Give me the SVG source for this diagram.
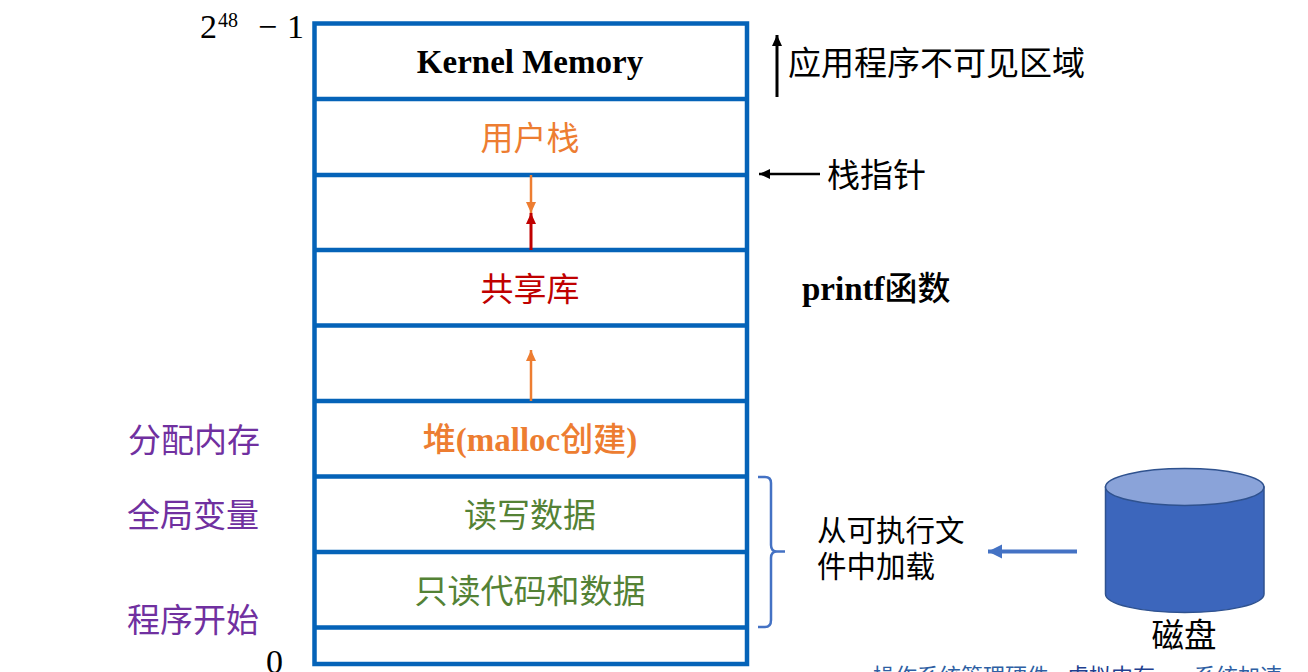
<svg xmlns="http://www.w3.org/2000/svg" width="1308" height="672" viewBox="0 0 1308 672">
<style>
text{font-family:"Liberation Serif","Noto Sans CJK SC",serif;}
.c{text-anchor:middle;font-size:33px}
.o{fill:#ed7d31}.g{fill:#548235}.p{fill:#7030a0}.r{fill:#c00000}
.b{font-family:"Noto Sans CJK SC",sans-serif;font-size:33px;text-anchor:middle}
.l{font-family:"Noto Sans CJK SC",sans-serif;font-size:33px}
.z{font-family:"Noto Sans CJK SC",sans-serif;font-weight:500}
.n{font-size:34px}
.m{fill:none;stroke:#0563b8;stroke-width:4.5}
.f{font-family:"Noto Sans CJK SC",sans-serif;font-size:29.500px}
.s{font-family:"Noto Sans CJK SC",sans-serif;font-size:22px;fill:#2e5fa3}
</style>
<defs>
<marker id="ao" markerUnits="userSpaceOnUse" markerWidth="12" markerHeight="12" refX="11" refY="6" orient="auto"><path d="M0 1L11 6L0 11z" fill="#ed7d31"/></marker>
<marker id="ar" markerUnits="userSpaceOnUse" markerWidth="12" markerHeight="12" refX="11" refY="6" orient="auto"><path d="M0 1L11 6L0 11z" fill="#c00000"/></marker>
<marker id="ak" markerUnits="userSpaceOnUse" markerWidth="12" markerHeight="12" refX="11" refY="6" orient="auto"><path d="M0 1L11 6L0 11z" fill="#000"/></marker>
<marker id="ab" markerUnits="userSpaceOnUse" markerWidth="15" markerHeight="16" refX="14" refY="8" orient="auto"><path d="M0 1L14 8L0 15z" fill="#4472c4"/></marker>
</defs>
<rect width="1308" height="672" fill="#fff"/>
<g id="memory-stack">
<rect class="m" x="314.500" y="23.500" width="432.500" height="640.500"/>
<path class="m" d="M314 99H747M314 175H747M314 250H747M314 325.500H747M314 401H747M314 476.500H747M314 552H747M314 627.500H747"/>
</g>
<g id="kernel"><text class="c" x="530" y="73" font-weight="700">Kernel Memory</text></g>
<g id="user-stack"><text class="b o" x="530" y="150">用户栈</text></g>
<g id="shared-lib"><text class="b r" x="530" y="301">共享库</text></g>
<g id="heap"><text class="c o" x="530" y="451" font-weight="700"><tspan class="z">堆</tspan>(malloc<tspan class="z">创建</tspan>)</text></g>
<g id="rw-data"><text class="b g" x="530" y="527">读写数据</text></g>
<g id="ro-data"><text class="b g" x="530" y="603">只读代码和数据</text></g>
<g id="connectors">
<path d="M531 175V213" stroke="#ed7d31" stroke-width="2.500" marker-end="url(#ao)"/>
<path d="M531 250V213" stroke="#c00000" stroke-width="3" marker-end="url(#ar)"/>
<path d="M531 401V350" stroke="#ed7d31" stroke-width="2.500" marker-end="url(#ao)"/>
<path d="M777 97V35" stroke="#000" stroke-width="3" marker-end="url(#ak)"/>
<path d="M820 174H759" stroke="#000" stroke-width="2.500" marker-end="url(#ak)"/>
<path d="M1077 551.500H988" stroke="#4472c4" stroke-width="4" marker-end="url(#ab)"/>
<path d="M758 477H765Q771 477 771 483V545Q771 551.500 777 551.500H785M777 551.500Q771 551.500 771 558V620Q771 627 765 627H758" fill="none" stroke="#4472c4" stroke-width="2.500"/>
</g>
<g id="top-label"><text class="n" x="200" y="38">2</text><text x="218" y="27" font-size="20" font-family="DejaVu Serif,serif">48</text><text class="n" x="258" y="38" font-size="36">−</text><text class="n" x="287" y="38">1</text></g>
<g id="zero-label"><text class="n" x="266" y="673">0</text></g>
<g id="invisible-label"><text class="l" x="788" y="75">应用程序不可见区域</text></g>
<g id="sp-label"><text class="l" x="827" y="187">栈指针</text></g>
<g id="printf-label"><text x="802" y="300" font-size="33" font-weight="700">printf<tspan class="z">函数</tspan></text></g>
<g id="alloc-label"><text class="b p" x="194" y="452">分配内存</text></g>
<g id="global-label"><text class="b p" x="193" y="527">全局变量</text></g>
<g id="start-label"><text class="b p" x="193" y="632">程序开始</text></g>
<g id="load-label"><text class="f" x="817" y="541">从可执行文</text><text class="f" x="817" y="577">件中加载</text></g>
<g id="disk">
<path d="M1105.500 487V594A79 18.500 0 0 0 1264 594V487z" fill="#3c66bc" stroke="#2f528f" stroke-width="1.500"/>
<ellipse cx="1184.700" cy="487" rx="79.200" ry="18.500" fill="#8aa3d9" stroke="#2f528f" stroke-width="1.500"/>
<text x="1184" y="647" text-anchor="middle" font-family="Noto Sans CJK SC,sans-serif" font-size="32.500">磁盘</text>
</g>
<g id="caption"><text class="s" x="873" y="684">操作系统管理硬件</text><text class="s" x="1067" y="684" fill="#1f3f8f" style="fill:#1f3f8f">虚拟内存</text><text class="s" x="1194" y="684">系统加速</text></g>
</svg>
